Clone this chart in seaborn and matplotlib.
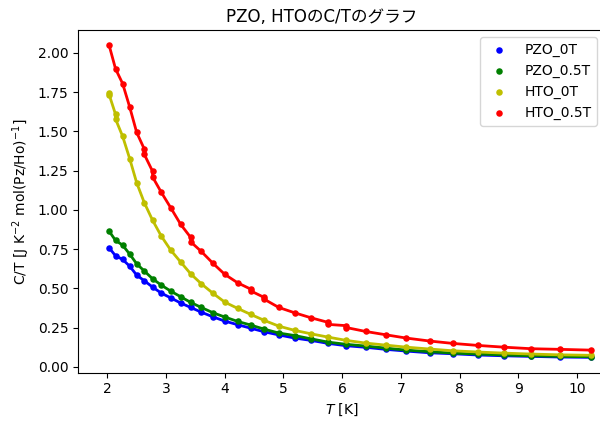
import numpy as np
import pandas as pd
import seaborn as sns
import matplotlib.pyplot as plt

plt.rcParams['font.family'] = ['DejaVu Sans', 'Noto Sans CJK JP']

# temperatures (K)
T = [2.03, 2.14, 2.26, 2.38, 2.50, 2.63, 2.77, 2.92, 3.08, 3.25, 3.42,
     3.60, 3.80, 4.00, 4.22, 4.44, 4.67, 4.92, 5.19, 5.47, 5.76, 6.07,
     6.40, 6.74, 7.09, 7.49, 7.88, 8.31, 8.75, 9.22, 9.71, 10.24]

# C/T values
pzo_0T = [0.758, 0.707, 0.684, 0.641, 0.584, 0.548, 0.508, 0.469, 0.439, 0.406, 0.378,
          0.348, 0.318, 0.291, 0.268, 0.246, 0.223, 0.203, 0.183, 0.168, 0.149, 0.134,
          0.124, 0.111, 0.100, 0.089, 0.083, 0.075, 0.070, 0.066, 0.062, 0.060]
pzo_05T = [0.864, 0.805, 0.775, 0.718, 0.656, 0.610, 0.561, 0.520, 0.482, 0.446, 0.410,
           0.378, 0.344, 0.317, 0.289, 0.266, 0.240, 0.215, 0.199, 0.178, 0.157, 0.143,
           0.132, 0.119, 0.106, 0.096, 0.087, 0.081, 0.075, 0.070, 0.066, 0.064]

# HTO has repeated points at some temperatures
T_hto_0T = [2.03, 2.03, 2.14, 2.14] + T[2:]
hto_0T = [1.745, 1.735, 1.608, 1.578, 1.469, 1.327, 1.172, 1.045, 0.934, 0.832, 0.743,
          0.667, 0.592, 0.529, 0.468, 0.412, 0.372, 0.334, 0.296, 0.259, 0.232, 0.210,
          0.189, 0.168, 0.151, 0.138, 0.125, 0.113, 0.102, 0.094, 0.087, 0.081, 0.076, 0.073]

T_hto_05T = [2.03, 2.14, 2.26, 2.38, 2.50, 2.63, 2.63, 2.77, 2.77, 2.92, 3.08, 3.25,
             3.42, 3.42, 3.60, 3.80, 4.00, 4.22, 4.44, 4.44, 4.67, 4.67, 4.92, 5.19,
             5.47, 5.76, 5.76, 6.07, 6.07, 6.40, 6.74, 7.09, 7.49, 7.88, 8.31, 8.75,
             9.22, 9.71, 10.24]
hto_05T = [2.049, 1.898, 1.805, 1.656, 1.493, 1.387, 1.353, 1.246, 1.210, 1.111, 1.013, 0.907,
           0.824, 0.796, 0.735, 0.659, 0.589, 0.535, 0.495, 0.484, 0.442, 0.431, 0.378, 0.344,
           0.312, 0.283, 0.270, 0.262, 0.250, 0.225, 0.204, 0.183, 0.164, 0.149, 0.136, 0.125,
           0.115, 0.111, 0.106]

series = [
    ("PZO_0T", T, pzo_0T, "b"),
    ("PZO_0.5T", T, pzo_05T, "g"),
    ("HTO_0T", T_hto_0T, hto_0T, "y"),
    ("HTO_0.5T", T_hto_05T, hto_05T, "r"),
]

fig = plt.figure(figsize=(6, 4.25), dpi=100)
ax = fig.add_axes([0.13, 0.123, 0.8805, 0.806])

for label, xs, ys, c in series:
    df = pd.DataFrame({"T": xs, "CT": ys})
    sns.scatterplot(x="T", y="CT", data=df, color=c, s=22, linewidth=0,
                    label=label, ax=ax, zorder=3)
    sns.lineplot(x="T", y="CT", data=df, color=c, lw=2, sort=False,
                 estimator=None, ax=ax, zorder=2)

ax.set_xlim(1.5, 10.5)
ax.set_ylim(-0.038, 2.145)
ax.set_xticks(range(2, 11))
ax.set_yticks(np.arange(0, 2.01, 0.25))
ax.set_xlabel("$T$ [K]")
ax.set_ylabel("C/T [J K$^{-2}$ mol(Pz/Ho)$^{-1}$]")
ax.set_title("PZO, HTOのC/Tのグラフ", x=0.28, ha="left")
ax.legend(loc="upper right", bbox_to_anchor=(597 / 600, 388 / 425),
          bbox_transform=fig.transFigure, borderaxespad=0)

fig.savefig("out.png", dpi=100)
